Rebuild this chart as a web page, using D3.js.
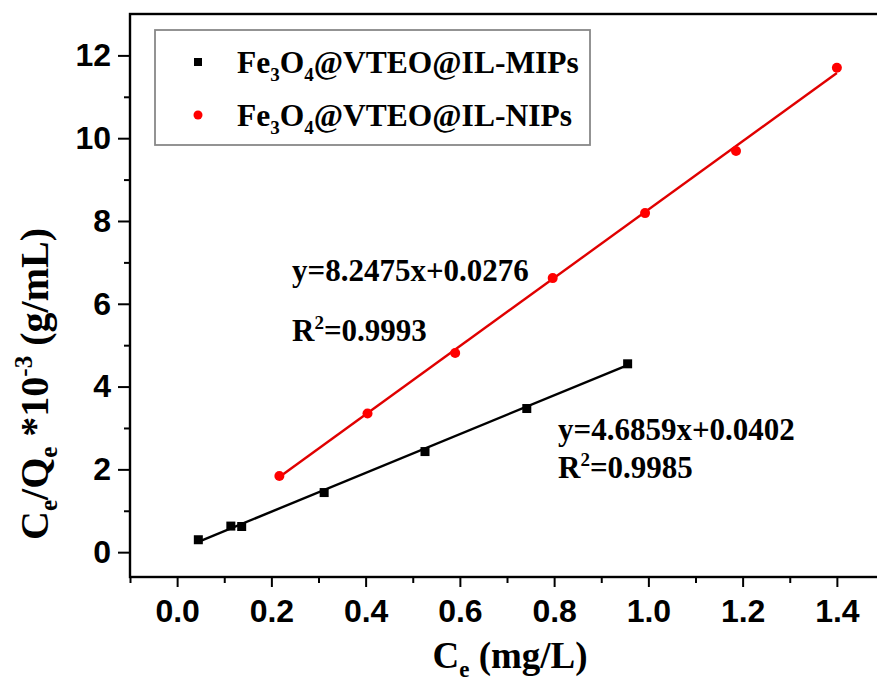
<!DOCTYPE html>
<meta charset="utf-8">
<head>
<style>
  body { margin: 0; background: #fff; }
  svg text { fill: #000; }
  .tick text { font-family: "Liberation Sans", Arial, sans-serif; font-weight: bold; font-size: 32px; }
  .serif { font-family: "Liberation Serif", "Times New Roman", serif; font-weight: bold; }
</style>
</head>
<body>
<svg id="chart" width="877" height="687"></svg>
<script src="https://d3js.org/d3.v7.min.js"></script>
<script>

// data
var mipsX = [0.045, 0.114, 0.137, 0.312, 0.526, 0.742, 0.956];
var mipsY = [0.30, 0.63, 0.62, 1.44, 2.43, 3.47, 4.55];
var nipsX = [0.217, 0.404, 0.590, 0.797, 0.993, 1.186, 1.400];
var nipsY = [1.84, 3.35, 4.81, 6.62, 8.19, 9.69, 11.70];

// fitted lines printed on the chart: [slope, intercept]
var mipsFit = [4.6859, 0.0402];
var nipsFit = [8.2475, 0.0276];

var xTicks = [0, 0.2, 0.4, 0.6, 0.8, 1.0, 1.2, 1.4];
var xMinor = [-0.1, 0.1, 0.3, 0.5, 0.7, 0.9, 1.1, 1.3];
var yTicks = [0, 2, 4, 6, 8, 10, 12];
var yMinor = [1, 3, 5, 7, 9, 11];

var svg = d3.select("#chart");

// plot frame
var mLeft = 130, mRight = 884, mTop = 14, mBottom = 577;

var x = d3.scaleLinear().domain([-0.1, 1.5]).range([mLeft, mRight]);
var y = d3.scaleLinear().domain([-0.6, 13]).range([mBottom, mTop]);

// frame (right side falls off the picture)
svg.append("rect")
  .attr("x", mLeft).attr("y", mTop)
  .attr("width", mRight - mLeft).attr("height", mBottom - mTop)
  .attr("fill", "none").attr("stroke", "#000").attr("stroke-width", 2.4);

// axes
var gy = svg.append("g").attr("transform", "translate(" + mLeft + ",0)")
  .call(d3.axisLeft(y).tickValues(yTicks).tickSize(12).tickPadding(7).tickFormat(d3.format("d")));
var gyMinor = svg.append("g").attr("transform", "translate(" + mLeft + ",0)")
  .call(d3.axisLeft(y).tickValues(yMinor).tickSize(6).tickFormat(""));

var gx = svg.append("g").attr("transform", "translate(0," + mBottom + ")")
  .call(d3.axisBottom(x).tickValues(xTicks).tickSize(10).tickPadding(12).tickFormat(d3.format(".1f")));
var gxMinor = svg.append("g").attr("transform", "translate(0," + mBottom + ")")
  .call(d3.axisBottom(x).tickValues(xMinor).tickSize(6).tickFormat(""));

[gy, gyMinor, gx, gxMinor].forEach(function(g){
  g.select(".domain").remove();
  g.selectAll(".tick line").attr("stroke", "#000").attr("stroke-width", 2);
});

// regression lines
function fitLine(xs, fit, color) {
  var x0 = d3.min(xs), x1 = d3.max(xs);
  svg.append("line")
    .attr("x1", x(x0)).attr("y1", y(fit[0] * x0 + fit[1]))
    .attr("x2", x(x1)).attr("y2", y(fit[0] * x1 + fit[1]))
    .attr("stroke", color).attr("stroke-width", 2.4);
}
fitLine(mipsX, mipsFit, "#000");
fitLine(nipsX, nipsFit, "#e00000");

// points
svg.append("g").selectAll("rect")
  .data(d3.range(mipsX.length))
  .enter().append("rect")
    .attr("x", function(i){ return x(mipsX[i]) - 4.5 })
    .attr("y", function(i){ return y(mipsY[i]) - 4.5 })
    .attr("width", 9).attr("height", 9)
    .attr("fill", "#000");

svg.append("g").selectAll("circle")
  .data(d3.range(nipsX.length))
  .enter().append("circle")
    .attr("cx", function(i){ return x(nipsX[i]) })
    .attr("cy", function(i){ return y(nipsY[i]) })
    .attr("r", 5)
    .attr("fill", "#ff0000");

// equations
function equation(px, py, parts) {
  var t = svg.append("text").attr("class", "serif")
    .attr("x", px).attr("y", py).style("font-size", "31px");
  parts.forEach(function(p){
    var s = t.append("tspan").text(p.t);
    if (p.sup) s.style("font-size", "19px").attr("dy", -12);
    if (p.back) s.attr("dy", p.back);
  });
}
equation(292, 281, [{t: "y=8.2475x+0.0276"}]);
equation(292, 341, [{t: "R"}, {t: "2", sup: true}, {t: "=0.9993", back: 12}]);
equation(558, 440, [{t: "y=4.6859x+0.0402"}]);
equation(558, 478, [{t: "R"}, {t: "2", sup: true}, {t: "=0.9985", back: 12}]);

// legend
var legendNames = ["MIPs", "NIPs"];
svg.append("rect")
  .attr("x", 155).attr("y", 30).attr("width", 435).attr("height", 115)
  .attr("fill", "#fff").attr("stroke", "#888").attr("stroke-width", 1.8);

legendNames.forEach(function(n, i){
  var cy = 62 + i * 53;
  if (i === 0) {
    svg.append("rect").attr("x", 194).attr("y", cy - 4).attr("width", 8).attr("height", 8).attr("fill", "#000");
  } else {
    svg.append("circle").attr("cx", 198).attr("cy", cy).attr("r", 4.5).attr("fill", "#ff0000");
  }
  var t = svg.append("text").attr("class", "serif")
    .attr("x", 237).attr("y", cy + 11).style("font-size", "31.5px");
  t.append("tspan").text("Fe");
  t.append("tspan").text("3").style("font-size", "19px").attr("dy", 8);
  t.append("tspan").text("O").attr("dy", -8);
  t.append("tspan").text("4").style("font-size", "19px").attr("dy", 8);
  t.append("tspan").text("@VTEO@IL-" + n).attr("dy", -8);
});

// axis titles
var xt = svg.append("text").attr("class", "serif")
  .attr("x", 510).attr("y", 668).attr("text-anchor", "middle").style("font-size", "37px");
xt.append("tspan").text("C");
xt.append("tspan").text("e").style("font-size", "23px").attr("dy", 9);
xt.append("tspan").text(" (mg/L)").attr("dy", -9);

var yt = svg.append("text").attr("class", "serif")
  .attr("transform", "translate(48,384) rotate(-90)")
  .attr("text-anchor", "middle").style("font-size", "40px");
yt.append("tspan").text("C");
yt.append("tspan").text("e").style("font-size", "25px").attr("dy", 9);
yt.append("tspan").text("/Q").attr("dy", -9);
yt.append("tspan").text("e").style("font-size", "25px").attr("dy", 9);
yt.append("tspan").text(" *10").attr("dy", -9);
yt.append("tspan").text("-3").style("font-size", "25px").attr("dy", -16);
yt.append("tspan").text("  (g/mL)").attr("dy", 16);

</script>
</body>
